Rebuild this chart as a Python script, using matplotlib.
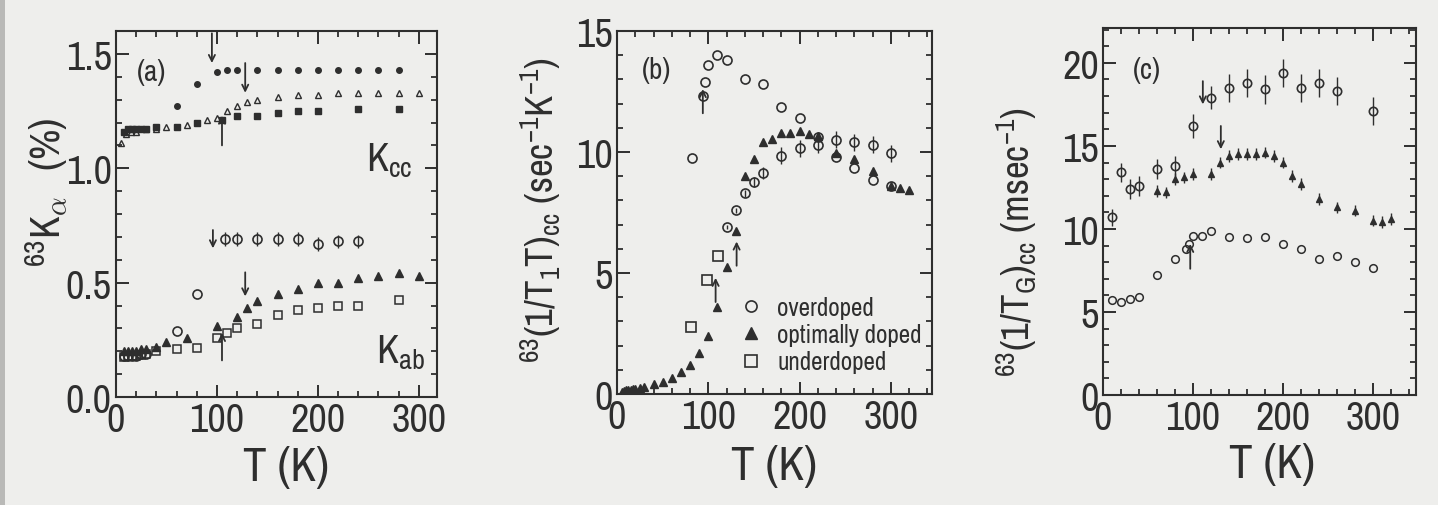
import matplotlib
matplotlib.use('Agg')
import matplotlib.pyplot as plt
from matplotlib import font_manager as fm
from matplotlib.ticker import MultipleLocator, FormatStrFormatter
from matplotlib.lines import Line2D
from matplotlib.patches import Rectangle

# Narrow sans-serif faces, best first; DejaVu Sans as the last resort.
PREFERRED = ['Nimbus Sans Narrow', 'Liberation Sans Narrow', 'Archivo Narrow',
             'Roboto Condensed', 'DejaVu Sans Condensed', 'DejaVu Sans']
_installed = {f.name for f in fm.fontManager.ttflist}
FONT = [f for f in PREFERRED if f in _installed] or ['DejaVu Sans']
plt.rcParams['font.family'] = FONT
plt.rcParams['mathtext.fontset'] = 'custom'
plt.rcParams['mathtext.rm'] = FONT[0]
plt.rcParams['mathtext.it'] = FONT[0] + ':italic'
plt.rcParams['mathtext.bf'] = FONT[0] + ':bold'

INK = '#2e2e2e'
BG = '#eeeeec'

# ---------------- (a) Knight shift ----------------
kcc_over_T = [60, 80, 100, 110, 120, 140, 160, 180, 200, 220, 240, 260, 280]
kcc_over = [1.27, 1.37, 1.42, 1.43, 1.43, 1.43, 1.43, 1.43, 1.43, 1.43, 1.43, 1.43, 1.43]

kcc_opt_T = [5, 10, 15, 20, 30, 40, 50, 70, 90, 100, 110, 120, 130, 140,
             160, 180, 200, 220, 240, 260, 280, 300]
kcc_opt = [1.11, 1.15, 1.16, 1.16, 1.17, 1.17, 1.18, 1.19, 1.21, 1.22, 1.25, 1.27,
           1.29, 1.30, 1.31, 1.32, 1.32, 1.33, 1.33, 1.33, 1.33, 1.33]

kcc_under_T = [8, 12, 16, 20, 25, 30, 40, 60, 80, 105, 120, 140, 160, 180, 200, 240, 280]
kcc_under = [1.16, 1.17, 1.17, 1.17, 1.17, 1.17, 1.18, 1.18, 1.20, 1.21, 1.23, 1.23,
             1.24, 1.25, 1.25, 1.26, 1.26]

kab_over_T = [8, 12, 16, 20, 25, 30, 60, 80]
kab_over = [0.18, 0.18, 0.18, 0.18, 0.19, 0.19, 0.29, 0.45]
kab_over_hi_T = [108, 120, 140, 160, 180, 200, 220, 240]
kab_over_hi = [0.69, 0.69, 0.69, 0.69, 0.69, 0.67, 0.68, 0.68]
kab_over_hi_err = [0.03] * 8

kab_opt_T = [8, 12, 16, 20, 25, 30, 40, 50, 70, 100, 120, 130, 140, 160, 180,
             200, 220, 240, 260, 280, 300]
kab_opt = [0.20, 0.20, 0.20, 0.20, 0.21, 0.21, 0.22, 0.24, 0.26, 0.31, 0.35, 0.39,
           0.42, 0.45, 0.47, 0.50, 0.50, 0.52, 0.53, 0.54, 0.53]

kab_under_T = [8, 12, 16, 20, 25, 30, 40, 60, 80, 100, 110, 120, 140, 160, 180,
               200, 220, 240, 280]
kab_under = [0.175, 0.18, 0.18, 0.18, 0.185, 0.19, 0.20, 0.21, 0.215, 0.26, 0.28,
             0.30, 0.32, 0.36, 0.38, 0.39, 0.40, 0.40, 0.425]

# Tc / T* marks: (T, start, end)
arrows_a = [(95, 1.59, 1.46), (128, 1.46, 1.33), (105, 1.10, 1.23),
            (96, 0.73, 0.65), (128, 0.545, 0.44), (105, 0.16, 0.28)]

# ---------------- (b) 1/T1T ----------------
t1t_over_T = [82, 94, 96, 100, 110, 120, 140, 160, 180, 200, 220, 240, 260, 280, 300]
t1t_over = [9.75, 12.3, 12.9, 13.6, 14.0, 13.8, 13.0, 12.8, 11.85, 11.4, 10.6, 9.8,
            9.35, 8.85, 8.6]

t1t_opt_T = [5, 8, 10, 12, 15, 18, 20, 25, 30, 40, 50, 60, 70, 80, 90, 100, 110,
             120, 130, 140, 150, 160, 170, 180, 190, 200, 210, 220, 240, 260, 280,
             300, 310, 320]
t1t_opt = [0.1, 0.12, 0.15, 0.15, 0.18, 0.2, 0.2, 0.25, 0.3, 0.4, 0.5, 0.65, 0.9,
           1.2, 1.7, 2.4, 3.6, 5.25, 6.75, 9.0, 9.7, 10.4, 10.55, 10.8, 10.8, 10.85,
           10.75, 10.65, 9.95, 9.7, 9.2, 8.6, 8.5, 8.45]

t1t_under_T = [81, 99, 111]
t1t_under = [2.75, 4.7, 5.7]
t1t_under_hi_T = [120, 130, 140, 150, 160, 180, 200, 220, 240, 260, 280, 300]
t1t_under_hi = [6.9, 7.6, 8.3, 8.75, 9.15, 9.85, 10.15, 10.3, 10.5, 10.4, 10.3, 9.95]
t1t_under_hi_err = [0.1, 0.1, 0.15, 0.2, 0.25, 0.35, 0.35, 0.35, 0.35, 0.35, 0.35, 0.35]

arrows_b = [(94, 11.6, 12.6), (108, 3.8, 4.8), (131, 5.3, 6.3)]
legend_labels = ['overdoped', 'optimally doped', 'underdoped']

# ---------------- (c) 1/T_G ----------------
tg_hi_T = [10, 20, 30, 40, 60, 80, 100, 120, 140, 160, 180, 200, 220, 240, 260, 300]
tg_hi = [10.7, 13.4, 12.4, 12.6, 13.6, 13.8, 16.2, 17.9, 18.5, 18.8, 18.4, 19.4,
         18.5, 18.8, 18.3, 17.1]
tg_hi_err = [0.5, 0.6, 0.6, 0.6, 0.6, 0.6, 0.75, 0.7, 0.85, 0.85, 0.85, 0.85,
             0.85, 0.85, 0.85, 0.85]

tg_opt_T = [60, 70, 80, 90, 100, 120, 130, 140, 150, 160, 170, 180, 190, 200, 210,
            220, 240, 260, 280, 300, 310, 320]
tg_opt = [12.3, 12.2, 13.0, 13.1, 13.3, 13.3, 14.0, 14.4, 14.5, 14.5, 14.5, 14.6,
          14.4, 14.0, 13.2, 12.7, 11.8, 11.3, 11.1, 10.5, 10.4, 10.6]
tg_opt_err = [0.35] * len(tg_opt)

tg_lo_T = [10, 20, 30, 40, 60, 80, 92, 96, 100, 110, 120, 140, 160, 180, 200, 220,
           240, 260, 280, 300]
tg_lo = [5.7, 5.6, 5.8, 5.9, 7.25, 8.2, 8.8, 9.1, 9.6, 9.6, 9.9, 9.5, 9.45, 9.5,
         9.1, 8.8, 8.2, 8.35, 8.0, 7.65]

arrows_c = [(111, 18.9, 17.5), (131, 16.2, 14.8), (97, 7.6, 9.1)]


def style_axes(ax, xmax, ylim, ymaj, ymin, yfmt):
    ax.set_facecolor(BG)
    ax.set_xlim(0, xmax)
    ax.set_ylim(*ylim)
    ax.xaxis.set_major_locator(MultipleLocator(100))
    ax.xaxis.set_minor_locator(MultipleLocator(20))
    ax.yaxis.set_major_locator(MultipleLocator(ymaj))
    ax.yaxis.set_minor_locator(MultipleLocator(ymin))
    ax.yaxis.set_major_formatter(FormatStrFormatter(yfmt))
    ax.tick_params(which='both', direction='in', top=True, right=True,
                   color=INK, labelcolor=INK, labelsize=29)
    ax.tick_params(which='major', length=9, width=1.4)
    ax.tick_params(which='minor', length=4.5, width=1.3)
    ax.tick_params(axis='x', pad=3)
    ax.tick_params(axis='y', pad=3)
    for s in ax.spines.values():
        s.set_color(INK)
        s.set_linewidth(1.5)


def draw_arrows(ax, arrows):
    for t, y0, y1 in arrows:
        ax.annotate('', xy=(t, y1), xytext=(t, y0),
                    arrowprops=dict(arrowstyle='->', lw=1.3, color=INK,
                                    shrinkA=0, shrinkB=0, mutation_scale=11))


W, H = 1438, 506
fig = plt.figure(figsize=(W / 100, H / 100), dpi=100, facecolor=BG)
fig.patches.append(Rectangle((0, 0), 5 / W, 1, transform=fig.transFigure,
                             facecolor='#b9b9b7', edgecolor='none'))

axA = fig.add_axes([116 / W, (H - 398) / H, 321 / W, 366 / H])
axB = fig.add_axes([617 / W, (H - 395) / H, 315 / W, 363 / H])
axC = fig.add_axes([1103 / W, (H - 396) / H, 313 / W, 367 / H])

# ---- panel (a)
style_axes(axA, 318, (0, 1.6), 0.5, 0.1, '%.1f')
axA.plot(kcc_over_T, kcc_over, 'o', ms=4, color=INK, mec=INK)
axA.plot(kcc_opt_T, kcc_opt, '^', ms=5, mfc='none', mec=INK, mew=1.0)
axA.plot(kcc_under_T, kcc_under, 's', ms=4.2, color=INK, mec=INK)
axA.plot(kab_over_T, kab_over, 'o', ms=6.5, mfc='none', mec=INK, mew=1.2)
axA.errorbar(kab_over_hi_T, kab_over_hi, yerr=kab_over_hi_err, fmt='o', ms=6.5,
             mfc='none', mec=INK, mew=1.2, ecolor=INK, elinewidth=1.0, capsize=0)
axA.plot(kab_opt_T, kab_opt, '^', ms=6, color=INK, mec=INK)
axA.plot(kab_under_T, kab_under, 's', ms=6, mfc='none', mec=INK, mew=1.1)
draw_arrows(axA, arrows_a)
axA.text(21, 1.386, '(a)', fontsize=21, color=INK, ha='left', va='baseline')
axA.text(248, 0.99, r'K$_{\mathrm{cc}}$', fontsize=29, color=INK, ha='left', va='baseline')
axA.text(258, 0.15, r'K$_{\mathrm{ab}}$', fontsize=29, color=INK, ha='left', va='baseline')
axA.set_xlabel('T (K)', fontsize=34, color=INK, va='center')
axA.xaxis.set_label_coords(0.53, -0.19)
axA.set_ylabel('$^{63}$K$_{\\mathrm{\\alpha}}$\u2002(%)', fontsize=30, color=INK,
               va='center')
axA.yaxis.set_label_coords(-0.218, 0.563)

# ---- panel (b)
style_axes(axB, 345, (0, 15), 5, 1, '%d')
axB.plot(t1t_over_T, t1t_over, 'o', ms=6.5, mfc='none', mec=INK, mew=1.2)
axB.plot(t1t_opt_T, t1t_opt, '^', ms=5.5, color=INK, mec=INK)
axB.plot(t1t_under_T, t1t_under, 's', ms=6.5, mfc='none', mec=INK, mew=1.2)
axB.errorbar(t1t_under_hi_T, t1t_under_hi, yerr=t1t_under_hi_err, fmt='o', ms=6.5,
             mfc='none', mec=INK, mew=1.2, ecolor=INK, elinewidth=1.0, capsize=0)
draw_arrows(axB, arrows_b)
axB.text(27, 13.4, '(b)', fontsize=21, color=INK, ha='left', va='center')
handles = [Line2D([], [], ls='none', marker='o', ms=8, mfc='none', mec=INK, mew=1.2),
           Line2D([], [], ls='none', marker='^', ms=8, color=INK, mec=INK),
           Line2D([], [], ls='none', marker='s', ms=8, mfc='none', mec=INK, mew=1.2)]
leg = axB.legend(handles, legend_labels, loc='upper left', bbox_to_anchor=(0.385, 0.27),
                 frameon=False, fontsize=18, handlelength=1.0, handletextpad=0.55,
                 labelspacing=0.17, borderaxespad=0, borderpad=0)
for t in leg.get_texts():
    t.set_color(INK)
axB.set_xlabel('T (K)', fontsize=34, color=INK, va='center')
axB.xaxis.set_label_coords(0.5, -0.198)
axB.set_ylabel(r'$^{63}$(1/T$_{1}$T)$_{\mathrm{cc}}$ (sec$^{-1}$K$^{-1}$)',
               fontsize=28, color=INK, va='center')
axB.yaxis.set_label_coords(-0.241, 0.51)

# ---- panel (c)
style_axes(axC, 348, (0, 22.1), 5, 1, '%d')
axC.errorbar(tg_hi_T, tg_hi, yerr=tg_hi_err, fmt='o', ms=6, mfc='none', mec=INK,
             mew=1.2, ecolor=INK, elinewidth=1.0, capsize=0)
axC.errorbar(tg_opt_T, tg_opt, yerr=tg_opt_err, fmt='^', ms=5, color=INK, mec=INK,
             ecolor=INK, elinewidth=1.0, capsize=0)
axC.plot(tg_lo_T, tg_lo, 'o', ms=5.5, mfc='none', mec=INK, mew=1.1)
draw_arrows(axC, arrows_c)
axC.text(33, 19.6, '(c)', fontsize=21, color=INK, ha='left', va='center')
axC.set_xlabel('T (K)', fontsize=34, color=INK, va='center')
axC.xaxis.set_label_coords(0.54, -0.188)
axC.set_ylabel(r'$^{63}$(1/T$_{\mathrm{G}}$)$_{\mathrm{cc}}$ (msec$^{-1}$)',
               fontsize=28, color=INK, va='center')
axC.yaxis.set_label_coords(-0.275, 0.42)

fig.savefig('out.png', dpi=100, facecolor=BG)
